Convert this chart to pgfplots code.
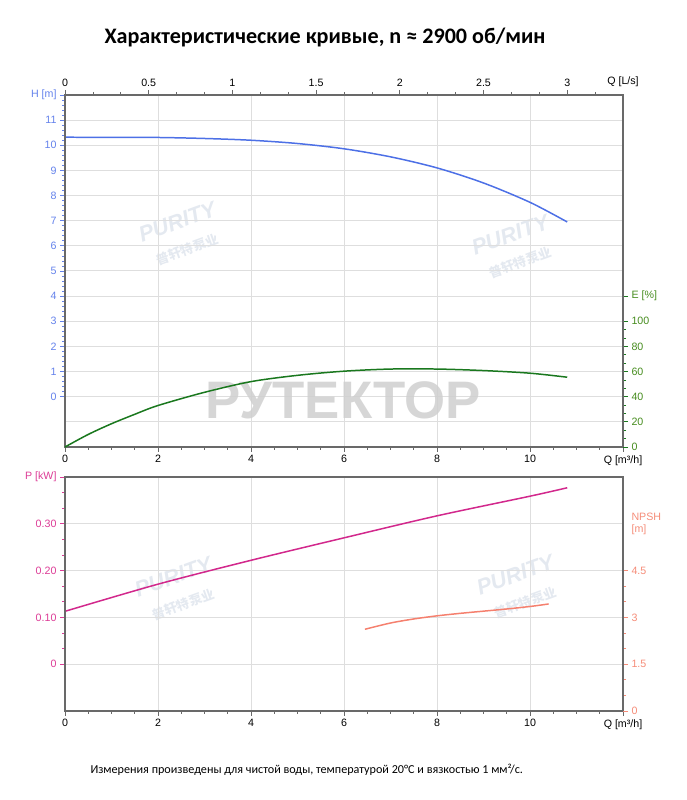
\documentclass[border=0pt]{standalone}
\usepackage{fontspec}
\setmainfont{Liberation Sans}
\newfontfamily\carlito{Carlito}
\newfontfamily\cjk{Noto Sans CJK SC}
\usepackage{pgfplots}
\pgfplotsset{compat=1.18}
\definecolor{framec}{RGB}{105,105,105}
\definecolor{gridc}{RGB}{222,222,222}
\definecolor{hline}{RGB}{77,112,230}
\definecolor{htext}{RGB}{100,130,235}
\definecolor{eline}{RGB}{26,120,30}
\definecolor{etext}{RGB}{70,140,30}
\definecolor{pline}{RGB}{210,40,140}
\definecolor{ptext}{RGB}{220,60,150}
\definecolor{nline}{RGB}{245,128,110}
\definecolor{ntext}{RGB}{245,140,120}
\definecolor{wm}{RGB}{228,233,240}
\pgfplotsset{
  base/.style={scale only axis, width=558bp, anchor=south west,
    axis line style={draw=framec, line width=1.3pt},
    tick align=outside, major tick length=5bp, minor tick length=3bp,
    tick style={draw=framec, line width=0.8pt},
    tick label style={font=\fontsize{10.7}{12}\selectfont},
    /pgf/number format/assume math mode=true,
    clip=false},
  gridax/.style={base, xtick={0,2,...,12}, xticklabels={}, yticklabels={},
    grid=major, major grid style={draw=gridc, line width=1pt},
    major tick length=0pt, minor tick length=0pt, tick style={draw=none}},
}
\begin{document}
\begin{tikzpicture}[x=1bp,y=1bp]
\useasboundingbox (0,0) rectangle (687,800);
\node[font=\carlito\bfseries\fontsize{22.2}{26}\selectfont] at (325,763) {Характеристические кривые, n ≈ 2900 об/мин};
% watermark logos
\foreach \px/\py in {182/565, 515/552, 178/210, 520/212}{
  \node[rotate=20, text=wm, font=\bfseries\itshape\fontsize{22}{24}\selectfont, align=center, inner sep=0pt] at (\px,\py) {PURITY\\[3bp]{\cjk\fontsize{13}{15}\selectfont 普轩特泵业}};
}
% ===== top panel =====
\begin{axis}[gridax, at={(65bp,353bp)}, height=352bp, xmin=0, xmax=12, ymin=-2, ymax=12,
  ytick={-1,0,...,12}]
\addplot[hline, line width=1.5pt, smooth] coordinates {
(0,10.32) (1,10.315) (2,10.31) (3,10.27) (4,10.2) (5,10.07) (6,9.86) (7,9.54) (8,9.1) (9,8.5) (10,7.73) (10.8,6.95)};
\end{axis}
\node[text=gray!38, font=\bfseries\fontsize{53}{56}\selectfont, opacity=0.85] at (343,400) {РУТЕКТОР};
\begin{axis}[base, at={(65bp,353bp)}, height=352bp, xmin=0, xmax=12, ymin=0, ymax=1,
  axis x line*=bottom, hide y axis, xtick={0,2,...,12},
  xticklabels={0,2,4,6,8,10,Q [m³/h]}, minor x tick num=3]
\end{axis}
\begin{axis}[base, at={(65bp,353bp)}, height=352bp, xmin=0, xmax=3.33333, ymin=0, ymax=1,
  axis x line*=top, hide y axis, xtick={0,0.5,1,1.5,2,2.5,3},
  xticklabels={0,0.5,1,1.5,2,2.5,3},
  minor xtick={0.16667,0.33333,0.66667,0.83333,1.16667,1.33333,1.66667,1.83333,2.16667,2.33333,2.66667,2.83333,3.16667},
  extra x ticks={3.33333}, extra x tick labels={Q [L/s]}, extra x tick style={tick style={draw=none}}]
\end{axis}
\begin{axis}[base, at={(65bp,353bp)}, height=352bp, xmin=0, xmax=12, ymin=-2, ymax=12,
  axis y line*=left, hide x axis, ytick={0,1,...,12},
  yticklabels={0,1,2,3,4,5,6,7,8,9,10,11,H [m]}, minor y tick num=4,
  tick style={draw=htext, line width=0.8pt}, yticklabel style={text=htext}]
\end{axis}
\begin{axis}[base, at={(65bp,353bp)}, height=352bp, xmin=0, xmax=12, ymin=0, ymax=280,
  axis y line*=right, hide x axis, ytick={0,20,...,120},
  yticklabels={0,20,40,60,80,100,E [\%]},
  minor ytick={6.6667,13.3333,26.6667,33.3333,46.6667,53.3333,66.6667,73.3333,86.6667,93.3333},
  tick style={draw=eline, line width=0.8pt}, yticklabel style={text=etext}]
\addplot[eline, line width=1.5pt, smooth] coordinates {
(0,0) (0.5,10) (1,18.5) (1.5,26) (2,33) (3,43.5) (4,52) (5,57) (6,60.3) (7,62) (8,62) (9,60.8) (10,58.7) (10.8,55.5)};
\end{axis}
% ===== bottom panel =====
\begin{axis}[gridax, at={(65bp,89bp)}, height=234bp, xmin=0, xmax=12, ymin=-0.1, ymax=0.4,
  ytick={0,0.1,0.2,0.3,0.4}]
\addplot[pline, line width=1.5pt, smooth] coordinates {
(0,0.113) (2,0.171) (4,0.222) (6,0.270) (8,0.317) (10,0.359) (10.8,0.377)};
\end{axis}
\begin{axis}[base, at={(65bp,89bp)}, height=234bp, xmin=0, xmax=12, ymin=0, ymax=1,
  axis x line*=bottom, hide y axis, xtick={0,2,...,12},
  xticklabels={0,2,4,6,8,10,Q [m³/h]}, minor x tick num=3]
\end{axis}
\begin{axis}[base, at={(65bp,89bp)}, height=234bp, xmin=0, xmax=12, ymin=-0.1, ymax=0.4,
  axis y line*=left, hide x axis, ytick={0,0.1,0.2,0.3,0.4},
  yticklabels={0,0.10,0.20,0.30,P [kW]}, minor y tick num=2,
  tick style={draw=ptext, line width=0.8pt}, yticklabel style={text=ptext}]
\end{axis}
\begin{axis}[base, at={(65bp,89bp)}, height=234bp, xmin=0, xmax=12, ymin=0, ymax=7.5,
  axis y line*=right, hide x axis, ytick={0,1.5,3,4.5},
  yticklabels={0,1.5,3,4.5}, minor y tick num=2,
  extra y ticks={6}, extra y tick labels={{NPSH\\{[m]}}},
  extra y tick style={tick style={draw=none}, tick label style={align=left}},
  tick style={draw=ntext, line width=0.8pt}, yticklabel style={text=ntext}]
\addplot[nline, line width=1.5pt, smooth] coordinates {
(6.45,2.62) (7,2.82) (7.5,2.95) (8,3.05) (8.5,3.13) (9,3.2) (9.5,3.27) (10,3.35) (10.4,3.43)};
\end{axis}
\node[anchor=base west, font=\carlito\fontsize{12.2}{14}\selectfont] at (87,26) {Измерения произведены для чистой воды, температурой 20°C и вязкостью 1 мм²/с.};
\end{tikzpicture}
\end{document}
